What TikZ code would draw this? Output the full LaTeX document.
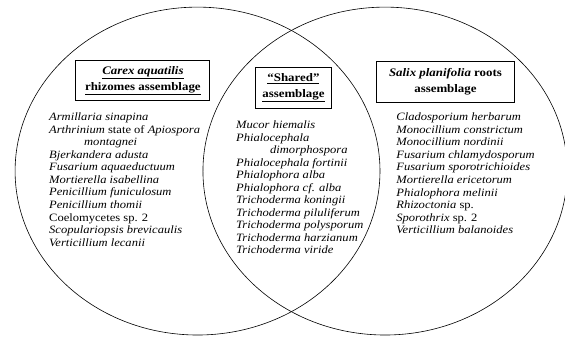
\documentclass[tikz,border=0pt]{standalone}
\usepackage{fontspec}
\setmainfont{Liberation Serif}[FakeStretch=1.12]
\usepackage{tikz}

\begin{document}
\begin{tikzpicture}[
  ring/.style={line width=0.6pt},
  hdr/.style={draw, line width=0.9pt, align=center, minimum height=1.41cm, inner sep=2pt, font=\fontsize{11.5}{15.5}\selectfont\bfseries},
  lst/.style={anchor=north west, align=left, inner sep=0pt, font=\fontsize{11.2}{12.5}\selectfont\itshape}
]
\useasboundingbox (0,0) rectangle (19.85,11.98);

% the two assemblages
\draw[ring] (6.94,5.97) ellipse [x radius=6.41, y radius=5.76];
\draw[ring] (13.53,5.97) ellipse [x radius=6.40, y radius=5.76];

\node[hdr, minimum width=4.71cm] (carex) at (5.02,9.14)
  {\underline{\textit{Carex aquatilis}}\\\underline{rhizomes assemblage}};
\node[hdr, minimum width=2.64cm] (shared) at (10.31,8.89)
  {\underline{“Shared”}\\\underline{assemblage}};
\node[hdr, minimum width=4.88cm] (salix) at (15.65,9.10)
  {\textit{Salix planifolia} roots\\assemblage};

\node[lst] (carexlist) at (1.72,8.01)
  {Armillaria sinapina\\
   Arthrinium \textup{state of} Apiospora\\
   \hspace*{35pt}montagnei\\
   Bjerkandera adusta\\
   Fusarium aquaeductuum\\
   Mortierella isabellina\\
   Penicillium funiculosum\\
   Penicillium thomii\\
   \textup{Coelomycetes sp. 2}\\
   Scopulariopsis brevicaulis\\
   Verticillium lecanii};

\node[lst] (sharedlist) at (8.29,7.73)
  {Mucor hiemalis\\
   Phialocephala\\
   \hspace*{34pt}dimorphospora\\
   Phialocephala fortinii\\
   Phialophora alba\\
   Phialophora cf. alba\\
   Trichoderma koningii\\
   Trichoderma piluliferum\\
   Trichoderma polysporum\\
   Trichoderma harzianum\\
   Trichoderma viride};

\node[lst] (salixlist) at (13.92,8.01)
  {Cladosporium herbarum\\
   Monocillium constrictum\\
   Monocillium nordinii\\
   Fusarium chlamydosporum\\
   Fusarium sporotrichioides\\
   Mortierella ericetorum\\
   Phialophora melinii\\
   Rhizoctonia \textup{sp.}\\
   Sporothrix \textup{sp. 2}\\
   Verticillium balanoides};
\end{tikzpicture}
\end{document}
